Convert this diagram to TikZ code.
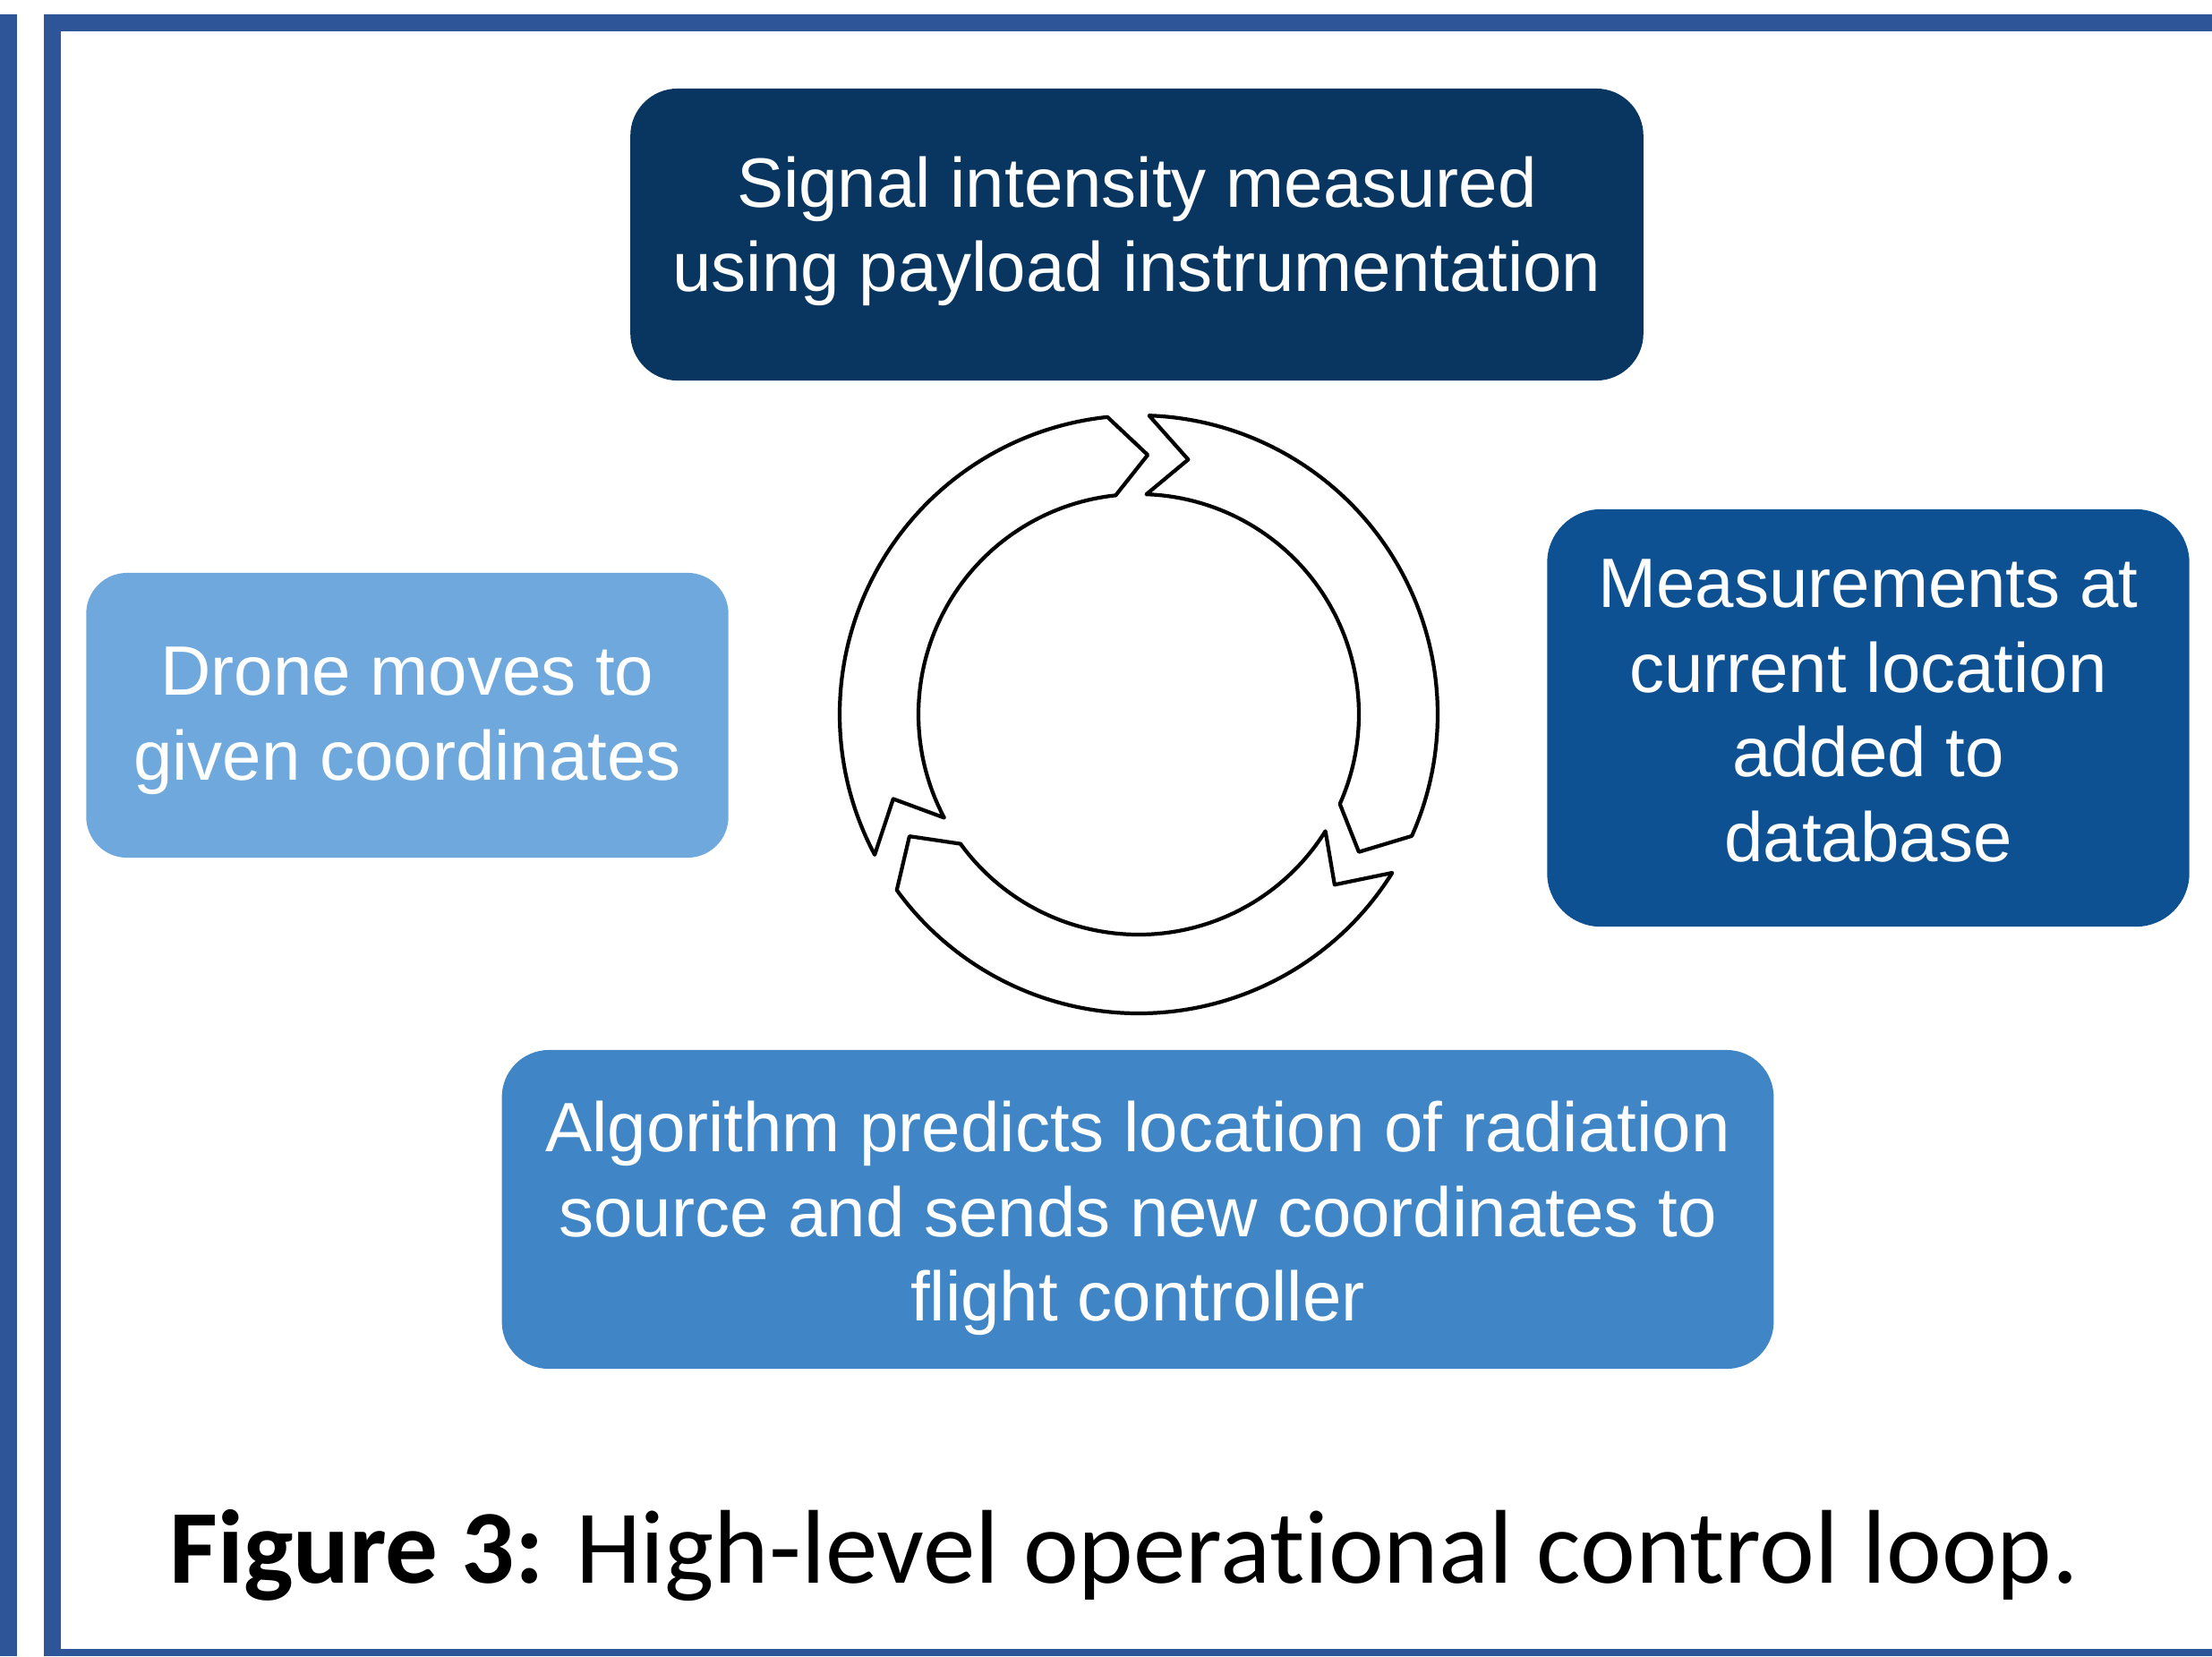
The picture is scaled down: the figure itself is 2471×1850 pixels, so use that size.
\documentclass[tikz,border=0pt]{standalone}
\usepackage{fontspec}
\setmainfont{Liberation Sans}
\newfontfamily\capfont[Ligatures=NoCommon]{Carlito}
\usetikzlibrary{positioning}
\definecolor{FrameBlue}{HTML}{2E5597}
\definecolor{StepNavy}{HTML}{093660}
\definecolor{StepDark}{HTML}{0E5193}
\definecolor{StepLight}{HTML}{6FA8DC}
\definecolor{StepMid}{HTML}{4085C6}

\begin{document}
\begin{tikzpicture}[x=0.01cm,y=-0.01cm,
  stepbox/.style={rounded corners=15pt,inner sep=0pt},
  steptext/.style={text=white,align=center,inner sep=0pt,
    font=\fontsize{22.2}{26.9}\selectfont},
  ring/.style={draw=black,fill=white,line width=1.2pt,line join=round},
  frame/.style={fill=FrameBlue}
]
\useasboundingbox (0,0) rectangle (2471,1850);
% page frame
\fill[frame] (0,16) rectangle (19,1850);
\fill[frame] (49,16) rectangle (68,1850);
\fill[frame] (49,16) rectangle (2471,35);
\fill[frame] (49,1842) rectangle (2471,1850);

% the four steps
\node[stepbox,fill=StepNavy,minimum width=11.31cm,minimum height=3.26cm] (measure) at (1270,262) {};
\node[steptext] (measure-txt) at ([yshift=1pt]measure.center)
  {Signal intensity measured\\using payload instrumentation};
\node[stepbox,fill=StepDark,minimum width=7.17cm,minimum height=4.66cm,rounded corners=17pt] (store) at (2087,802) {};
\node[steptext] (store-txt) at ([yshift=2.3pt]store.center)
  {Measurements at\\current location\\added to\\database};
\node[stepbox,fill=StepMid,minimum width=14.2cm,minimum height=3.56cm] (predict) at (1271,1351) {};
\node[steptext] (predict-txt) at ([yshift=-2.8pt]predict.center)
  {Algorithm predicts location of radiation\\source and sends new coordinates to\\flight controller};
\node[stepbox,fill=StepLight,minimum width=7.17cm,minimum height=3.18cm,rounded corners=13pt] (move) at (455,799) {};
\node[steptext] (move-txt) at ([yshift=-1.7pt]move.center)
  {Drone moves to\\given coordinates};

% cycle arrows
\coordinate (hub) at (1272,798);
\begin{scope}[shift={(hub)},y=0.01cm]
\foreach \tl in {208,88,-32}{
  \pgfmathsetmacro\hd{\tl-112}
  \pgfmathsetmacro\tp{\tl-120}
  \pgfmathsetmacro\nt{\tl-9}
  \draw[ring] (\tl:334) arc[start angle=\tl,end angle=\hd,radius=334]
    -- (\tp:290) -- (\hd:246) arc[start angle=\hd,end angle=\tl,radius=246]
    -- (\nt:290) -- cycle;
}
\end{scope}

\node[anchor=base] (caption) at (1256,1768)
  {\capfont\fontsize{33.3}{40}\selectfont\textbf{Figure 3:} High-level operational control loop.};
\end{tikzpicture}
\end{document}
